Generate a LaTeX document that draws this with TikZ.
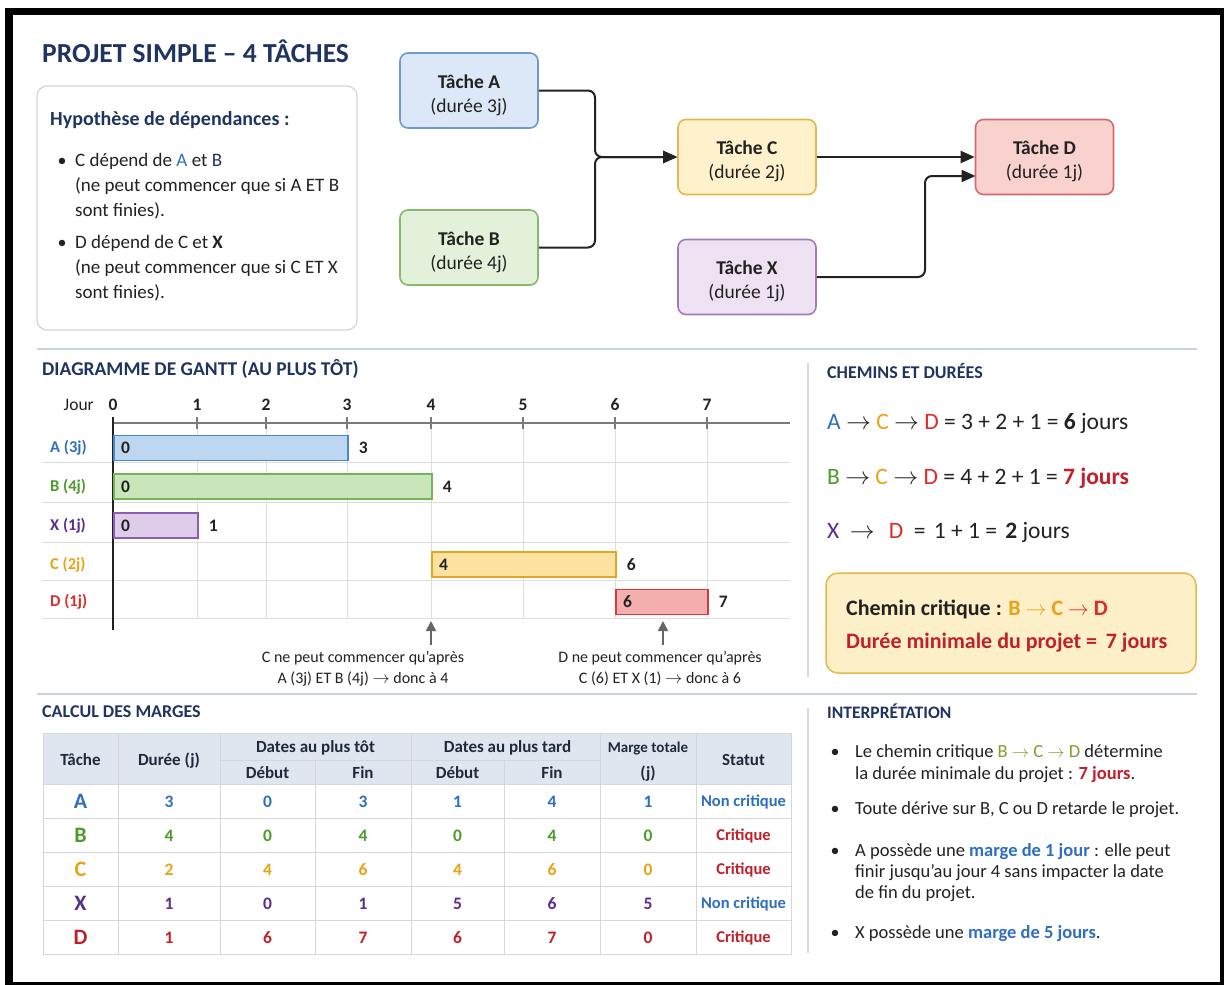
\documentclass[tikz,border=0pt]{standalone}
\usepackage{fontspec}
\setmainfont{Carlito}
\usetikzlibrary{arrows.meta}

\definecolor{navy}{HTML}{1F3461}
\definecolor{ink}{HTML}{222222}
\definecolor{cA}{HTML}{2F6FBF}
\definecolor{cB}{HTML}{4E9A2A}
\definecolor{cC}{HTML}{E8A317}
\definecolor{cX}{HTML}{5B2D8E}
\definecolor{cD}{HTML}{E02B2B}
\definecolor{crit}{HTML}{C0202A}
\definecolor{olv}{HTML}{8A9A30}
\definecolor{sepc}{HTML}{C9D1E2}
\definecolor{vsepc}{HTML}{DADADA}
\definecolor{gridc}{HTML}{DDDDDD}
\definecolor{axisc}{HTML}{7A7A7A}
\definecolor{arrc}{HTML}{666666}
\definecolor{tblc}{HTML}{D3D8DF}
\definecolor{hdrc}{HTML}{DFE6F0}
\definecolor{thc}{HTML}{1F2A3A}
\definecolor{boxc}{HTML}{D4D4D4}
% task boxes
\definecolor{fA}{HTML}{DCE8F7}\definecolor{dA}{HTML}{6C9BD2}
\definecolor{fB}{HTML}{E3F1DA}\definecolor{dB}{HTML}{86B96B}
\definecolor{fC}{HTML}{FFF1CC}\definecolor{dC}{HTML}{E6B64C}
\definecolor{fX}{HTML}{EDE1F2}\definecolor{dX}{HTML}{A27BBD}
\definecolor{fD}{HTML}{F9D2D0}\definecolor{dD}{HTML}{D46A6A}
% gantt bars
\definecolor{gA}{HTML}{BDD7F1}\definecolor{hA}{HTML}{4A86CF}
\definecolor{gB}{HTML}{C9E5BA}\definecolor{hB}{HTML}{78B257}
\definecolor{gX}{HTML}{DECCEA}\definecolor{hX}{HTML}{8C5CB3}
\definecolor{gC}{HTML}{FCE1A0}\definecolor{hC}{HTML}{E3A624}
\definecolor{gD}{HTML}{F5AFAE}\definecolor{hD}{HTML}{D63A3A}
\definecolor{critbg}{HTML}{FDF0C8}
\definecolor{critbd}{HTML}{E6B84C}

\newcommand{\fsz}[2]{\fontsize{#1}{#2}\selectfont}
\newcommand{\ar}{\ensuremath{\rightarrow}}

\begin{document}
\begin{tikzpicture}[x=1pt,y=-1pt,
  every node/.style={inner sep=0pt},
  lbl/.style={anchor=base west,text=ink},
  ctr/.style={anchor=base,text=ink},
  head/.style={anchor=base west,text=navy,font=\bfseries\fsz{18}{21}},
  task/.style={draw,rounded corners=8pt,line width=1.6pt,minimum width=138pt,
    minimum height=75pt,align=center,text=ink,font=\fsz{19.5}{24},text height=47pt},
  conn/.style={line width=2pt,draw=ink,rounded corners=7pt,
    -{Triangle[length=14pt,width=12pt]}},
  sep/.style={draw=sepc,line width=1.5pt},
  vsep/.style={draw=vsepc,line width=1.5pt},
  gridl/.style={draw=gridc,line width=1pt},
  bar/.style={draw,line width=1.6pt,minimum height=25pt,anchor=west},
  bnum/.style={anchor=west,font=\bfseries\fsz{17.5}{20},text=ink},
  rowlab/.style={anchor=west,font=\bfseries\fsz{16.5}{19}},
  note/.style={anchor=base,font=\fsz{16}{20},text=ink},
  uparr/.style={draw=arrc,line width=1.6pt,-{Triangle[length=10pt,width=10pt]}},
  tbl/.style={draw=tblc,line width=1pt},
  th/.style={anchor=base,font=\bfseries\fsz{17}{20},text=thc},
  td/.style={anchor=base,font=\bfseries\fsz{17.5}{20}},
  body/.style={anchor=base west,text=ink,font=\fsz{19}{22}},
  ibody/.style={anchor=base west,text=ink,font=\fsz{18.5}{21}},
  dot/.style={anchor=base,text=ink,font=\fsz{18}{21}},
]
% page and frame
\fill[white] (0,0) rectangle (1224,985);
\fill[black] (5,8) rectangle (1224,985);
\fill[white] (13,15) rectangle (1220,982);
\useasboundingbox (0,0) rectangle (1224,985);

% ---------- title and hypotheses ----------
\node[anchor=base west,text=navy,font=\bfseries\fsz{27.5}{32}] (title) at (42,62) {PROJET SIMPLE – 4 TÂCHES};
\draw[draw=boxc,fill=white,rounded corners=10pt,line width=1.2pt] (37,86) rectangle (357,330);
\node[anchor=base west,text=navy,font=\bfseries\fsz{20}{23}] (hyp) at (50,125) {Hypothèse de dépendances :};
\node[dot] (hb1) at (62,166) {\textbullet};
\node[body] (h11) at (75,166) {C dépend de \textcolor{cA}{A} et \textcolor{navy}{B}};
\node[body] (h12) at (75,191) {(ne peut commencer que si A ET B};
\node[body] (h13) at (75,216) {sont finies).};
\node[dot] (hb2) at (62,248) {\textbullet};
\node[body] (h21) at (75,248) {D dépend de C et \textbf{X}};
\node[body] (h22) at (75,273) {(ne peut commencer que si C ET X};
\node[body] (h23) at (75,298) {sont finies).};

% ---------- dependency network ----------
\node[task,fill=fA,draw=dA] (A) at (469,90.5) {\textbf{Tâche A}\\(durée 3j)};
\node[task,fill=fB,draw=dB] (B) at (469,247.5) {\textbf{Tâche B}\\(durée 4j)};
\node[task,fill=fC,draw=dC] (C) at (747,157) {\textbf{Tâche C}\\(durée 2j)};
\node[task,fill=fX,draw=dX] (X) at (747,277) {\textbf{Tâche X}\\(durée 1j)};
\node[task,fill=fD,draw=dD] (D) at (1044.5,157) {\textbf{Tâche D}\\(durée 1j)};
\coordinate (join) at (595,157);
\coordinate (xbend) at (925,176);
\coordinate (xin) at (975.5,176);
\draw[conn] (A.east) -| (join) -- (C.west);
\draw[conn] (B.east) -| (join) -- (C.west);
\draw[conn] (C.east) -- (D.west);
\draw[conn] (X.east) -| (xbend) -- (xin);

% ---------- separators ----------
\draw[sep] (37,349) -- (1197,349);
\draw[sep] (37,694) -- (1197,694);
\draw[vsep] (808,363) -- (808,677);
\draw[vsep] (808,708) -- (808,953);

% ---------- Gantt chart ----------
\node[head,font=\bfseries\fsz{19.5}{22}] (gtitle) at (42,375) {DIAGRAMME DE GANTT (AU PLUS TÔT)};
\node[anchor=base east,text=ink,font=\fsz{17.5}{20}] (jour) at (94,410) {Jour};
\foreach \y in {462,502,542,580,618}
  \draw[gridl] (42,\y) -- (790,\y);
\foreach \x in {197,266,347,431,523,615,707}
  \draw[gridl] (\x,423) -- (\x,618);
\draw[draw=axisc,line width=1.6pt] (113,423) -- (790,423);
\foreach \d/\x in {0/113,1/197,2/266,3/347,4/431,5/523,6/615,7/707}{
  \draw[draw=axisc,line width=1.3pt] (\x,417) -- (\x,429);
  \node[ctr,font=\bfseries\fsz{17.5}{20}] (day\d) at (\x,410) {\d};
}
\draw[draw=ink,line width=2.2pt] (113,417) -- (113,630);
\foreach \r/\y/\xs/\xe/\lc/\bf/\bd/\s/\e/\dur in {
  A/448/113/347/cA/gA/hA/0/3/3j,
  B/486.5/113/431/cB/gB/hB/0/4/4j,
  X/525.5/113/197/cX/gX/hX/0/1/1j,
  C/564.5/431/615/cC/gC/hC/4/6/2j,
  D/602/615/707/cD/gD/hD/6/7/1j}{
  \node[rowlab,text=\lc] (row\r) at (50,\y) {\r\ (\dur)};
  \node[bar,fill=\bf,draw=\bd,minimum width={\xe-\xs}] (bar\r) at (\xs,\y) {};
  \node[bnum] (start\r) at ([xshift=8pt]bar\r.west) {\s};
  \node[bnum] (end\r) at ([xshift=10pt]bar\r.east) {\e};
}
\coordinate (n1a) at (431,645);
\coordinate (n1b) at (431,621);
\coordinate (n2a) at (663,645);
\coordinate (n2b) at (663,621);
\draw[uparr] (n1a) -- (n1b);
\draw[uparr] (n2a) -- (n2b);
\node[note] (note1a) at (363,662) {C ne peut commencer qu’après};
\node[note] (note1b) at (363,683) {A (3j) ET B (4j) \ar{} donc à 4};
\node[note] (note2a) at (660,662) {D ne peut commencer qu’après};
\node[note] (note2b) at (660,683) {C (6) ET X (1) \ar{} donc à 6};

% ---------- paths and durations ----------
\node[head,font=\bfseries\fsz{18}{21}] (ptitle) at (827,378) {CHEMINS ET DURÉES};
\node[lbl,font=\fsz{23.5}{26}] (path1) at (827,429)
  {\textcolor{cA}{A} \ar{} \textcolor{cC}{C} \ar{} \textcolor{cD}{D} = 3 + 2 + 1 = \textbf{6} jours};
\node[lbl,font=\fsz{23.5}{26}] (path2) at (827,484)
  {\textcolor{cB}{B} \ar{} \textcolor{cC}{C} \ar{} \textcolor{cD}{D} = 4 + 2 + 1 = \textcolor{crit}{\textbf{7 jours}}};
\node[lbl,font=\fsz{23.5}{26}] (path3) at (827,538)
  {\textcolor{cX}{X}\hspace{0.45em}\ar\hspace{0.6em}\textcolor{cD}{D}\hspace{0.45em}=\hspace{0.35em}1 + 1 =\hspace{0.35em}\textbf{2} jours};
\draw[draw=critbd,fill=critbg,rounded corners=12pt,line width=1.5pt] (826,573) rectangle (1196,673);
\node[lbl,font=\bfseries\fsz{22}{25}] (crit1) at (846,615)
  {Chemin critique : \textcolor{cC}{B \ar{} C} \textcolor{cD}{\ar{} D}};
\node[lbl,text=crit,font=\bfseries\fsz{22}{25}] (crit2) at (846,648)
  {Durée minimale du projet =\, 7 jours};

% ---------- margin table ----------
\node[head] (mtitle) at (42,717) {CALCUL DES MARGES};
\fill[hdrc] (43,733) rectangle (791,784);
\foreach \y in {784,818,852,886,920}
  \draw[tbl] (43,\y) -- (791,\y);
\draw[tbl] (220,760) -- (600,760);
\foreach \x in {118,220,411,600,696}
  \draw[tbl] (\x,733) -- (\x,954);
\foreach \x in {315,504}
  \draw[tbl] (\x,760) -- (\x,954);
\draw[tbl] (43,733) rectangle (791,954);
\node[th] (hT) at (80.5,765) {Tâche};
\node[th] (hDu) at (169,765) {Durée (j)};
\node[th] (hE) at (315.5,752) {Dates au plus tôt};
\node[th] (hES) at (267.5,778) {Début};
\node[th] (hEF) at (363,778) {Fin};
\node[th] (hL) at (507.5,752) {Dates au plus tard};
\node[th] (hLS) at (457.5,778) {Début};
\node[th] (hLF) at (552,778) {Fin};
\node[th,font=\bfseries\fsz{15}{18}] (hM) at (648,752) {Marge totale};
\node[th] (hMj) at (648,778) {(j)};
\node[th] (hS) at (743.5,765) {Statut};
\foreach \n/\y/\col/\du/\es/\ef/\ls/\lf/\mg/\st/\stc in {
  A/801/cA/3/0/3/1/4/1/Non critique/cA,
  B/835/cB/4/0/4/0/4/0/Critique/crit,
  C/869/cC/2/4/6/4/6/0/Critique/crit,
  X/903/cX/1/0/1/5/6/5/Non critique/cA,
  D/937/crit/1/6/7/6/7/0/Critique/crit}{
  \node[td,text=\col,font=\bfseries\fsz{22}{24}] (tk\n) at (80.5,\y+7) {\n};
  \node[td,text=\col] (du\n) at (169,\y+6) {\du};
  \node[td,text=\col] (es\n) at (267.5,\y+6) {\es};
  \node[td,text=\col] (ef\n) at (363,\y+6) {\ef};
  \node[td,text=\col] (ls\n) at (457.5,\y+6) {\ls};
  \node[td,text=\col] (lf\n) at (552,\y+6) {\lf};
  \node[td,text=\col] (mg\n) at (648,\y+6) {\mg};
  \node[td,text=\stc,font=\bfseries\fsz{16.5}{19}] (st\n) at (743.5,\y+5.5) {\st};
}

% ---------- interpretation ----------
\node[head,font=\bfseries\fsz{17.5}{21}] (ititle) at (827,718) {INTERPRÉTATION};
\node[dot] (ib1) at (835,757) {\textbullet};
\node[ibody] (i11) at (855,757) {Le chemin critique \textcolor{olv}{B \ar{} C \ar{} D} détermine};
\node[ibody] (i12) at (855,779) {la durée minimale du projet : \textcolor{crit}{\textbf{7 jours}}.};
\node[dot] (ib2) at (835,814) {\textbullet};
\node[ibody] (i21) at (855,814) {Toute dérive sur B, C ou D retarde le projet.};
\node[dot] (ib3) at (835,856) {\textbullet};
\node[ibody] (i31) at (855,856) {A possède une \textcolor{cA}{\textbf{marge de 1 jour}} : elle peut};
\node[ibody] (i32) at (855,877) {finir jusqu’au jour 4 sans impacter la date};
\node[ibody] (i33) at (855,898) {de fin du projet.};
\node[dot] (ib4) at (835,938) {\textbullet};
\node[ibody] (i41) at (855,938) {X possède une \textcolor{cA}{\textbf{marge de 5 jours}}.};
\end{tikzpicture}
\end{document}
